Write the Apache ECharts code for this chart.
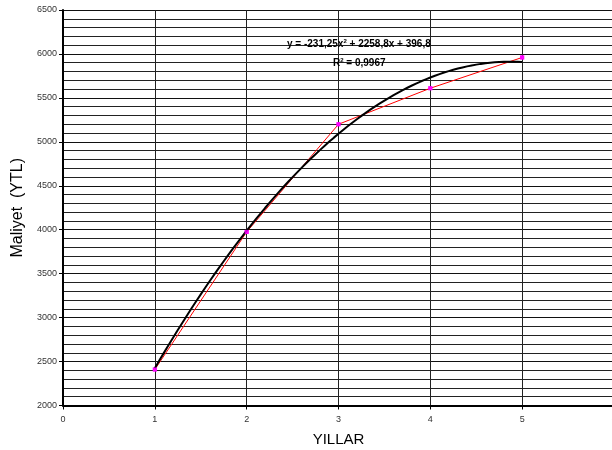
<!DOCTYPE html>
<html>
<head>
<meta charset="utf-8">
<script src="https://cdn.jsdelivr.net/npm/echarts@6/dist/echarts.min.js"></script>
<style>
  html, body { margin: 0; padding: 0; background: #fff; }
  #chart { width: 612px; height: 450px; }
</style>
</head>
<body>
<div id="chart"></div>
<script>
// Yearly cost observations
const years = [1, 2, 3, 4, 5];
const costs = [2410, 3975, 5200, 5610, 5960];

// Quadratic trendline coefficients (y = a·x² + b·x + c) and its R²
const trendA = -231.25;
const trendB = 2258.8;
const trendC = 396.8;
const trendR2 = '0,9967';

// Axis ticks
const xTicks = [0, 1, 2, 3, 4, 5, 6];
const yTicks = [2000, 2500, 3000, 3500, 4000, 4500, 5000, 5500, 6000, 6500];

// Sample the fitted polynomial over the observed year range
const trendPoints = [];
for (let i = 0; i <= 80; i++) {
  const x = years[0] + (years[years.length - 1] - years[0]) * i / 80;
  trendPoints.push([x, trendA * x * x + trendB * x + trendC]);
}

const chart = echarts.init(document.getElementById('chart'));
const labelFont = 'Liberation Sans, Arial, sans-serif';
const supStyle = { fontFamily: labelFont, fontSize: 6, fontWeight: 'bold', fill: '#000', lineHeight: 8, verticalAlign: 'top' };
const eqStyle = { fontFamily: labelFont, fontSize: 10, fontWeight: 'bold', fill: '#000', lineHeight: 12 };

chart.setOption({
  animation: false,
  backgroundColor: '#fff',
  grid: { left: 63, right: -2, top: 10, bottom: 44.5, containLabel: false, outerBoundsMode: 'none' },
  xAxis: {
    type: 'value',
    min: xTicks[0],
    max: xTicks[xTicks.length - 1],
    interval: 1,
    name: 'YILLAR',
    nameLocation: 'middle',
    nameGap: 27,
    nameTextStyle: { fontFamily: labelFont, fontSize: 15, color: '#000' },
    axisLine: { show: true, onZero: false, lineStyle: { color: '#000', width: 2 } },
    axisTick: { show: true, length: 4, lineStyle: { color: '#000' } },
    axisLabel: { fontFamily: labelFont, fontSize: 9, color: '#333', margin: 10 },
    splitLine: { show: true, lineStyle: { color: '#222', width: 1 } }
  },
  yAxis: {
    type: 'value',
    min: yTicks[0],
    max: yTicks[yTicks.length - 1],
    interval: 500,
    name: 'Maliyet  (YTL)',
    nameLocation: 'middle',
    nameGap: 36,
    nameTextStyle: { fontFamily: labelFont, fontSize: 16, color: '#000' },
    axisLine: { show: true, lineStyle: { color: '#000', width: 2 } },
    axisTick: { show: true, length: 4, lineStyle: { color: '#000' } },
    axisLabel: { fontFamily: labelFont, fontSize: 9, color: '#333', margin: 6, formatter: v => String(v) },
    splitLine: { show: true, lineStyle: { color: '#111', width: 1 } },
    minorTick: { show: false, splitNumber: 5 },
    minorSplitLine: { show: true, lineStyle: { color: '#222', width: 1 } }
  },
  series: [
    {
      name: 'Maliyet',
      type: 'line',
      data: years.map((x, i) => [x, costs[i]]),
      lineStyle: { color: '#ff0000', width: 1 },
      itemStyle: { color: '#ff00ff' },
      symbol: 'rect',
      symbolSize: 4,
      z: 3
    },
    {
      name: 'Trend',
      type: 'line',
      data: trendPoints,
      showSymbol: false,
      smooth: false,
      lineStyle: { color: '#000', width: 2 },
      z: 4
    },
    {
      name: 'Markers',
      type: 'scatter',
      data: years.map((x, i) => [x, costs[i]]),
      symbol: 'rect',
      symbolSize: 4,
      itemStyle: { color: '#ff00ff' },
      z: 5
    }
  ],
  graphic: [
    {
      type: 'text',
      left: 287,
      top: 38,
      z: 10,
      style: {
        text: '{t|y = -231,25x}{s|2}{t| + 2258,8x + 396,8}',
        rich: { t: eqStyle, s: supStyle }
      }
    },
    {
      type: 'text',
      left: 333,
      top: 57,
      z: 10,
      style: {
        text: '{t|R}{s|2}{t| = ' + trendR2 + '}',
        rich: { t: eqStyle, s: supStyle }
      }
    }
  ]
});
</script>
</body>
</html>
